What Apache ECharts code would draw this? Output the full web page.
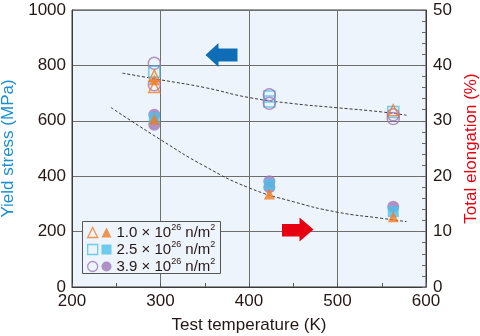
<!DOCTYPE html>
<html>
<head>
<meta charset="utf-8">
<script src="https://cdn.jsdelivr.net/npm/echarts@6/dist/echarts.min.js"></script>
<style>
  html, body { margin: 0; padding: 0; background: #fff; }
  #chart { width: 480px; height: 336px; }
</style>
</head>
<body>
<div id="chart"></div>
<script>
// Test temperature axis (K)
const xTicks = { min: 200, max: 600, step: 100 };
// Yield stress axis (MPa) and total elongation axis (%)
const yLeftTicks = { min: 0, max: 1000, step: 200 };
const yRightTicks = { min: 0, max: 50, step: 10 };

// Fluence labels (n/m^2)
const fluences = ['1.0', '2.5', '3.9'];

// Yield stress (MPa), [temperature K, value] — open symbols
const ysF10 = [[293, 763], [293, 722], [563, 638]];
const ysF25 = [[293, 777], [423, 688], [423, 670], [563, 632]];
const ysF39 = [[293, 808], [293, 730], [423, 694], [423, 663], [563, 622], [563, 608]];

// Total elongation (%), [temperature K, value] — filled symbols
const elF10 = [[293, 37.4], [293, 30.3], [423, 16.8], [563, 12.7]];
const elF25 = [[293, 30.5], [423, 18.5], [563, 13.6]];
const elF39 = [[293, 31.1], [293, 29.3], [423, 19.1], [423, 18.0], [563, 14.5]];

// Trend curves
const ysTrend = [[257, 772], [300, 748], [350, 720], [400, 684], [450, 662], [500, 647], [550, 632], [578, 620]];
const elTrend = [[244, 32.4], [300, 26.6], [350, 21.8], [400, 17.9], [450, 15.4], [500, 13.5], [550, 12.4], [578, 11.8]];

const FONT = '"Liberation Sans", Arial, Helvetica, sans-serif';
const TXT = '#231815';
const ORANGE = '#ef7a22';
const SKY = '#4cc0ea';
const PURPLE = '#9e78b8';
const PLOT_BG = '#eef4fb';

const chart = echarts.init(document.getElementById('chart'), null, { renderer: 'canvas' });

const symbols = ['triangle', 'rect', 'circle'];
const colors = [ORANGE, SKY, PURPLE];

function openSeries(i, data, size) {
  return {
    name: 'ys-' + fluences[i], type: 'scatter', data, symbol: symbols[i], symbolSize: size, yAxisIndex: 0,
    itemStyle: { color: 'rgba(0,0,0,0)', borderColor: colors[i], borderWidth: 1.5 },
    z: 3
  };
}
function filledSeries(i, data, size) {
  return {
    name: 'el-' + fluences[i], type: 'scatter', data, symbol: symbols[i], symbolSize: size, yAxisIndex: 1,
    itemStyle: { color: colors[i], borderWidth: 0 },
    z: 3
  };
}

const openLegend = fluences.map((f, i) => ({
  name: 'ys-' + f, icon: symbols[i],
  itemStyle: { color: 'rgba(0,0,0,0)', borderColor: colors[i], borderWidth: 1.3 }
}));
const filledLegend = fluences.map((f, i) => ({
  name: 'el-' + f, icon: symbols[i],
  itemStyle: { color: colors[i], borderWidth: 0 }
}));

const legendRich = {
  t: { fontSize: 15, fontFamily: FONT, color: TXT, lineHeight: 12 },
  // superscript: a short line box padded underneath lifts the digits up
  s: { fontSize: 9, fontFamily: FONT, color: TXT, lineHeight: 2, padding: [0, 0, 10, 0] }
};

const plainLabel = v => String(v);

// both legend columns share the same line structure so their rows line up
const legendCommon = {
  selectedMode: false, orient: 'vertical', top: 223,
  itemWidth: 10, itemHeight: 10, itemGap: -2, padding: 0,
  textStyle: { rich: legendRich }, z: 20
};

chart.setOption({
  animation: false,
  backgroundColor: '#fff',
  textStyle: { fontFamily: FONT },
  grid: {
    left: 72, right: 54, top: 10, bottom: 49,
    containLabel: false, outerBoundsMode: 'none',
    show: true, backgroundColor: PLOT_BG, borderColor: '#3a3a3a', borderWidth: 1
  },
  xAxis: {
    type: 'value', min: xTicks.min, max: xTicks.max, interval: xTicks.step,
    name: 'Test temperature (K)', nameLocation: 'middle', nameGap: 30,
    nameTextStyle: { fontSize: 17, color: TXT, fontFamily: FONT },
    axisLine: { show: true, lineStyle: { color: '#3a3a3a', width: 1 } },
    axisTick: { show: true, inside: true, length: 4, lineStyle: { color: '#555' } },
    minorTick: { show: true, splitNumber: 2, length: 4, lineStyle: { color: '#555' } },
    splitLine: { show: true, lineStyle: { color: '#6e6e6e', width: 1 } },
    axisLabel: { fontSize: 17, color: TXT, margin: 6, fontFamily: FONT, formatter: plainLabel }
  },
  yAxis: [
    {
      type: 'value', min: yLeftTicks.min, max: yLeftTicks.max, interval: yLeftTicks.step,
      name: 'Yield stress (MPa)', nameLocation: 'middle', nameGap: 52,
      nameTextStyle: { fontSize: 17, color: '#1c8fcf', fontFamily: FONT },
      axisLine: { show: true, lineStyle: { color: '#3a3a3a', width: 1 } },
      axisTick: { show: false },
      splitLine: { show: true, lineStyle: { color: '#6e6e6e', width: 1 } },
      axisLabel: { fontSize: 17, color: TXT, margin: 6, fontFamily: FONT, formatter: plainLabel }
    },
    {
      type: 'value', min: yRightTicks.min, max: yRightTicks.max, interval: yRightTicks.step,
      position: 'right',
      name: 'Total elongation (%)', nameLocation: 'middle', nameGap: 36,
      nameTextStyle: { fontSize: 17, color: '#e60012', fontFamily: FONT },
      axisLine: { show: true, lineStyle: { color: '#3a3a3a', width: 1 } },
      axisTick: { show: true, inside: true, length: 4, lineStyle: { color: '#666' } },
      minorTick: { show: true, splitNumber: 5, length: 4, lineStyle: { color: '#666' } },
      splitLine: { show: false },
      axisLabel: { fontSize: 17, color: TXT, margin: 7, fontFamily: FONT, formatter: plainLabel }
    }
  ],
  legend: [
    Object.assign({}, legendCommon, {
      data: openLegend, left: 87,
      formatter: () => '{t| }{s| }'
    }),
    Object.assign({}, legendCommon, {
      data: filledLegend, left: 101.5,
      formatter: name => '{t|' + name.slice(3) + ' \u00d7 10}{s|26}{t| n/m}{s|2}'
    })
  ],
  graphic: [
    {
      type: 'rect', z: 10,
      shape: { x: 82.5, y: 221.5, width: 138, height: 52 },
      style: { fill: PLOT_BG, stroke: '#555', lineWidth: 1 }
    },
    {
      // left-pointing arrow: yield stress uses the left axis
      type: 'polygon', z: 10,
      shape: { points: [[205.5, 55], [218.5, 43], [218.5, 48.5], [237.5, 48.5], [237.5, 61.5], [218.5, 61.5], [218.5, 67]] },
      style: { fill: '#0f6db6' }
    },
    {
      // right-pointing arrow: elongation uses the right axis
      type: 'polygon', z: 10,
      shape: { points: [[282, 224], [299.5, 224], [299.5, 217.5], [313.5, 229.5], [299.5, 241.5], [299.5, 236.5], [282, 236.5]] },
      style: { fill: '#e60012' }
    }
  ],
  series: [
    {
      name: 'ys-trend', type: 'line', data: ysTrend, yAxisIndex: 0, smooth: true,
      showSymbol: false, silent: true, z: 2,
      lineStyle: { color: '#3a3a3a', width: 1, type: [3, 2] }
    },
    {
      name: 'el-trend', type: 'line', data: elTrend, yAxisIndex: 1, smooth: true,
      showSymbol: false, silent: true, z: 2,
      lineStyle: { color: '#3a3a3a', width: 1, type: [3, 2] }
    },
    openSeries(1, ysF25, 11),
    openSeries(2, ysF39, 12),
    openSeries(0, ysF10, 11),
    filledSeries(2, elF39, 12),
    filledSeries(1, elF25, 11),
    filledSeries(0, elF10, 11)
  ]
});
</script>
</body>
</html>
